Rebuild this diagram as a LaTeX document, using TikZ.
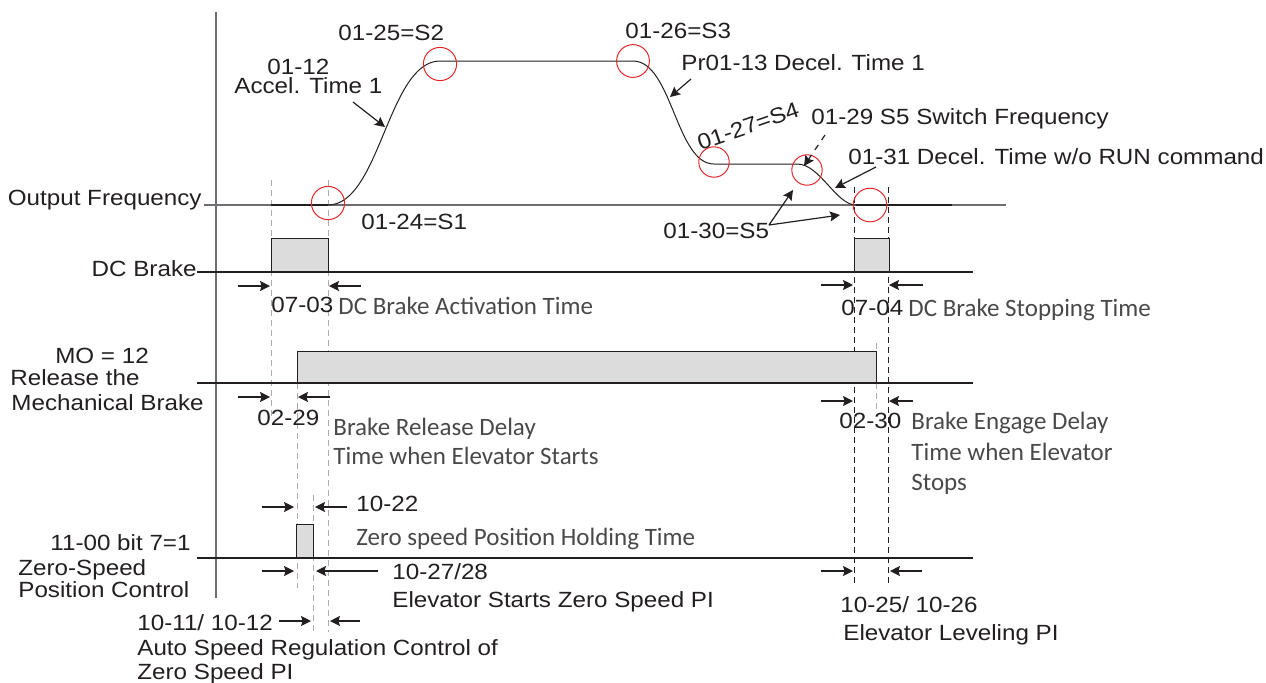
\documentclass[tikz,border=0pt]{standalone}
\usepackage{fontspec}
\setmainfont[FakeStretch=1.1]{Liberation Sans}
\newfontfamily\notefont{Carlito}
\usetikzlibrary{positioning, arrows.meta}
\definecolor{ink}{HTML}{231F20}
\definecolor{axisgray}{HTML}{6D6E71}
\definecolor{pulsegray}{HTML}{DCDCDC}
\definecolor{markred}{HTML}{E3262B}
\definecolor{notegray}{HTML}{4A4849}

\begin{document}
\begin{tikzpicture}[
    % one unit is one pixel of the original chart, y runs downwards
    x=0.5pt, y=-0.5pt,
    lbl/.style={anchor=west, inner sep=0pt, text=ink, text height=7.9pt, text depth=0pt, font=\fontsize{11}{13}\selectfont},
    descr/.style={anchor=west, inner sep=0pt, text=notegray, text height=8pt, text depth=0pt, font=\notefont\fontsize{12.5}{15}\selectfont},
    sline/.style={draw=ink, line width=0.5pt},
    rail/.style={draw=ink, line width=0.7pt},
    pulse/.style={draw=ink, fill=pulsegray, line width=0.5pt},
    guide/.style={draw=gray!65, line width=0.4pt, dash pattern=on 3pt off 2pt},
    guidedark/.style={draw=ink, line width=0.4pt, dash pattern=on 3pt off 2pt},
    spot/.style={draw=markred, line width=0.5pt},
    arrow/.style={-{Stealth[length=5pt, width=5pt, inset=0.8pt]}, draw=ink, line width=0.6pt}
]
    \useasboundingbox (0,0) rectangle (1266,682);

    % key points of the speed curve
    \coordinate (s1) at (328,205);
    \coordinate (s2) at (440,61);
    \coordinate (s3) at (633,61);
    \coordinate (s4) at (714,164);
    \coordinate (sw) at (797,164);
    \coordinate (s5) at (856,205);

    % guide lines
    \draw[guide] (271,180) -- (271,420);
    \draw[guide] (328,180) -- (328,632);
    \draw[guide] (297,383) -- (297,588);
    \draw[guide] (313,495) -- (313,632);
    \draw[guide] (876,343) -- (876,410);
    \draw[guidedark] (854,187) -- (854,585);
    \draw[guidedark] (888,187) -- (888,585);

    % axis and signal rails
    \draw[draw=axisgray, line width=0.7pt] (216,12) -- (216,598);
    \draw[draw=axisgray, line width=0.8pt] (204,205) -- (1006,205);
    \draw[pulse] (271,272) rectangle (328,238);
    \draw[pulse] (854,272) rectangle (889,238);
    \draw[rail] (197,272) -- (973,272);
    \draw[pulse] (297,383) rectangle (876,351);
    \draw[rail] (197,383) -- (973,383);
    \draw[pulse] (296,558) rectangle (313,524);
    \draw[rail] (197,558) -- (973,558);

    % speed curve
    \draw[draw=ink, line width=1pt] (271,205) -- (s1);
    \draw[draw=ink, line width=1pt] (s5) -- (952,205);
    \draw[sline] (s1) .. controls (380,205) and (388,61) .. (s2) -- (s3)
        .. controls (672,61) and (676,164) .. (s4) -- (sw)
        .. controls (820,164) and (836,205) .. (s5);

    % S-curve markers
    \draw[spot] (328,203) circle[radius=8.3pt];
    \draw[spot] (440,64) circle[radius=8.3pt];
    \draw[spot] (633,61) circle[radius=8.2pt];
    \draw[spot] (714,162) circle[radius=7.6pt];
    \draw[spot] (807,170) circle[radius=7.6pt];
    \draw[spot] (870,205) circle[radius=8.4pt];

    % row titles
    \node[lbl, anchor=east] (outf) at (202,198) {Output Frequency};
    \node[lbl, anchor=east] (dcb) at (197,269) {DC Brake};
    \node[lbl, anchor=center] (mo) at (102,356) {MO = 12};
    \node[lbl] (rel) at (10,378) {Release the};
    \node[lbl] (mech) at (11,403) {Mechanical Brake};
    \node[lbl, anchor=east] (bit) at (191,543) {11-00 bit 7=1};
    \node[lbl] (zsp) at (18,568) {Zero-Speed};
    \node[lbl] (posc) at (18,590) {Position Control};

    % curve labels
    \node[lbl] (acc) at (267,67) {01-12};
    \node[lbl] (acct) at (234,86) {Accel. Time 1};
    \node[lbl] (ls2) at (338,33) {01-25=S2};
    \node[lbl] (ls1) at (361,222) {01-24=S1};
    \node[lbl] (ls3) at (625,31) {01-26=S3};
    \node[lbl] (dec) at (681,63) {Pr01-13 Decel. Time 1};
    \node[lbl, anchor=center, rotate=19] (ls4) at (748,126) {01-27=S4};
    \node[lbl] (swf) at (811,117) {01-29 S5 Switch Frequency};
    \node[lbl] (norun) at (848,157) {01-31 Decel. Time w/o RUN command};
    \node[lbl] (ls5) at (663,231) {01-30=S5};

    % arrows onto the curve
    \coordinate (accA) at (353,102);
    \coordinate (accB) at (385,127);
    \coordinate (decA) at (691,79);
    \coordinate (decB) at (670,97);
    \coordinate (swA) at (825,135);
    \coordinate (swB) at (804,166);
    \coordinate (nrA) at (876,167);
    \coordinate (nrB) at (835,188);
    \coordinate (s5A) at (769,225);
    \coordinate (s5B) at (793,190);
    \coordinate (s5C) at (840,215);
    \draw[arrow] (accA) -- (accB);
    \draw[arrow] (decA) -- (decB);
    \draw[arrow, dashed] (swA) -- (swB);
    \draw[arrow] (nrA) -- (nrB);
    \draw[arrow] (s5A) -- (s5B);
    \draw[arrow] (s5A) -- (s5C);

    % timing gaps
    \coordinate (dc1) at (270,286);
    \coordinate (dc2) at (329,286);
    \coordinate (dc3) at (853,285);
    \coordinate (dc4) at (889,285);
    \coordinate (mb1) at (270,397);
    \coordinate (mb2) at (298,397);
    \coordinate (mb3) at (853,401);
    \coordinate (mb4) at (889,401);
    \coordinate (zh1) at (294,507);
    \coordinate (zh2) at (315,507);
    \coordinate (zp1) at (294,571);
    \coordinate (zp2) at (316,571);
    \coordinate (as1) at (311,621);
    \coordinate (as2) at (330,621);
    \coordinate (lv1) at (853,571);
    \coordinate (lv2) at (890,571);
    \draw[arrow] ([xshift=-16pt]dc1) -- (dc1);
    \draw[arrow] ([xshift=16pt]dc2) -- (dc2);
    \draw[arrow] ([xshift=-16pt]dc3) -- (dc3);
    \draw[arrow] ([xshift=17pt]dc4) -- (dc4);
    \draw[arrow] ([xshift=-16pt]mb1) -- (mb1);
    \draw[arrow] ([xshift=16pt]mb2) -- (mb2);
    \draw[arrow] ([xshift=-16pt]mb3) -- (mb3);
    \draw[arrow] ([xshift=12pt]mb4) -- (mb4);
    \draw[arrow] ([xshift=-16pt]zh1) -- (zh1);
    \draw[arrow] ([xshift=16pt]zh2) -- (zh2);
    \draw[arrow] ([xshift=-16pt]zp1) -- (zp1);
    \draw[arrow] ([xshift=31pt]zp2) -- (zp2);
    \draw[arrow] ([xshift=-16pt]as1) -- (as1);
    \draw[arrow] ([xshift=15pt]as2) -- (as2);
    \draw[arrow] ([xshift=-16pt]lv1) -- (lv1);
    \draw[arrow] ([xshift=16pt]lv2) -- (lv2);

    % gap labels
    \node[lbl] (p0703) at (271,305) {07-03};
    \node[descr] (t0703) at (338,306) {DC Brake Activation Time};
    \node[lbl] (p0704) at (841,308) {07-04};
    \node[descr] (t0704) at (908,308) {DC Brake Stopping Time};
    \node[lbl] (p0229) at (257,418) {02-29};
    \node[descr] (t0229a) at (333,427) {Brake Release Delay};
    \node[descr] (t0229b) at (333,456) {Time when Elevator Starts};
    \node[lbl] (p0230) at (839,421) {02-30};
    \node[descr] (t0230a) at (911,421) {Brake Engage Delay};
    \node[descr] (t0230b) at (911,452) {Time when Elevator};
    \node[descr] (t0230c) at (911,482) {Stops};
    \node[lbl] (p1022) at (356,504) {10-22};
    \node[descr] (t1022) at (356,537) {Zero speed Position Holding Time};
    \node[lbl] (p1027) at (392,572) {10-27/28};
    \node[lbl] (t1027) at (392,600) {Elevator Starts Zero Speed PI};
    \node[lbl] (p1011) at (137,623) {10-11/ 10-12};
    \node[lbl] (t1011a) at (137,648) {Auto Speed Regulation Control of};
    \node[lbl] (t1011b) at (137,672) {Zero Speed PI};
    \node[lbl] (p1025) at (840,605) {10-25/ 10-26};
    \node[lbl] (t1025) at (843,633) {Elevator Leveling PI};
\end{tikzpicture}
\end{document}
